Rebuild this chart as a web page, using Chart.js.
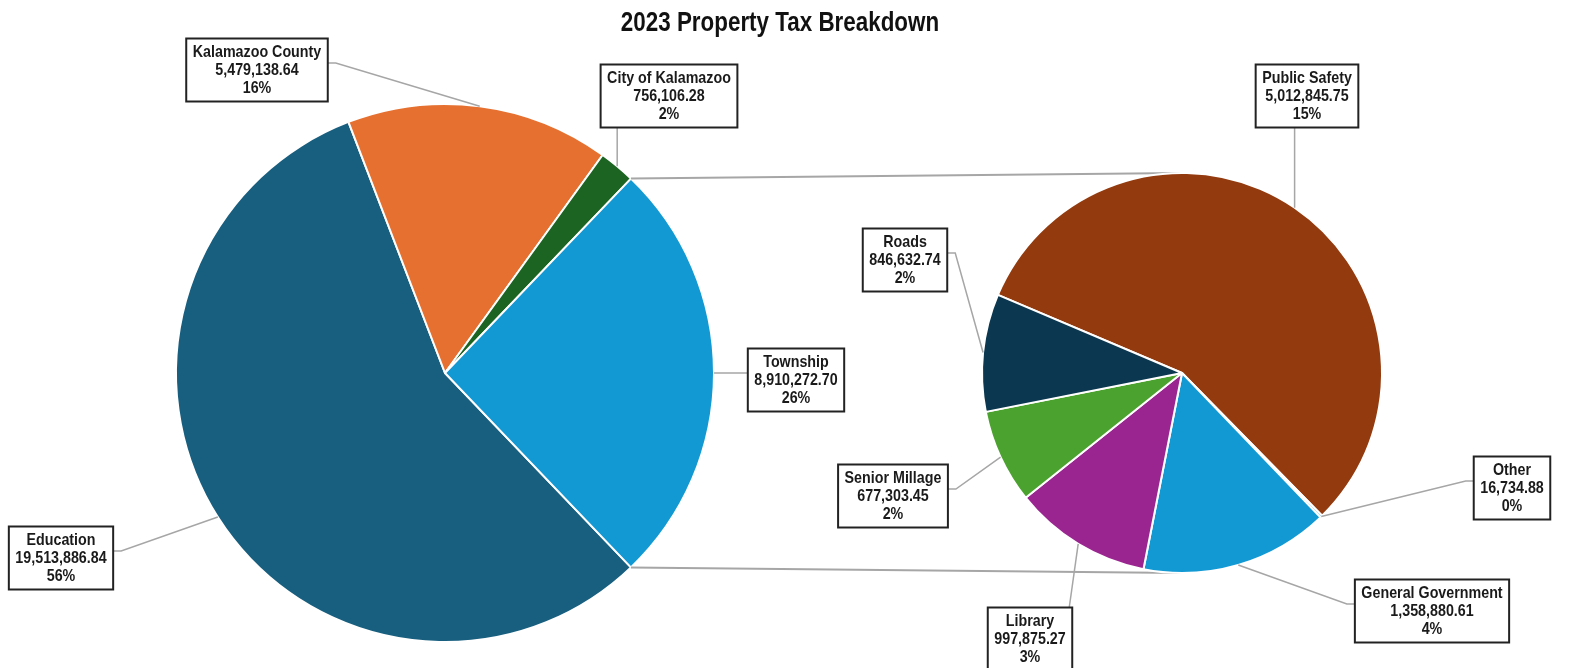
<!DOCTYPE html>
<html>
<head>
<meta charset="utf-8">
<script src="https://cdn.jsdelivr.net/npm/chart.js@4.4.1/dist/chart.umd.min.js"></script>
<style>
  html, body { margin: 0; padding: 0; background: #fff; overflow: hidden; }
  #wrap { position: relative; width: 1578px; height: 668px; overflow: hidden; transform-origin: 0 0; }
  .layer { position: absolute; left: 0; top: 0; width: 1578px; height: 668px; }
  canvas { display: block; }
</style>
</head>
<body>
<div id="wrap">
  <div class="layer"><canvas id="mainChart"></canvas></div>
  <div class="layer"><canvas id="subChart"></canvas></div>
</div>
<script>
'use strict';

var chartTitle = '2023 Property Tax Breakdown';

var mainLabels = ['Education', 'Kalamazoo County', 'City of Kalamazoo', 'Township'];
var mainValues = [19513886.84, 5479138.64, 756106.28, 8910272.70];
var mainPercents = ['56%', '16%', '2%', '26%'];
var mainColors = ['#175E7F', '#E5702F', '#1B6421', '#1299D4'];

var subLabels = ['Public Safety', 'Other', 'General Government', 'Library', 'Senior Millage', 'Roads'];
var subValues = [5012845.75, 16734.88, 1358880.61, 997875.27, 677303.45, 846632.74];
var subPercents = ['15%', '0%', '4%', '3%', '2%', '2%'];
var subColors = ['#933A0E', '#1299D4', '#1299D4', '#9B2590', '#4CA22E', '#0B3850'];

// label box centres and the side the leader line leaves from
var mainBoxes = [[61, 558, 'r'], [257, 70, 'r'], [669, 96, 'b'], [796, 380, 'l']];
var subBoxes = [[1307, 96, 'b'], [1512, 488, 'l'], [1432, 611, 'l'], [1030, 639, 't'], [893, 496, 'r'], [905, 260, 'r']];

var FONT = '"Liberation Sans", Arial, sans-serif';
var NARROW = 0.84;   // squeeze text sideways, no narrow font installed
var LEADER = '#A6A6A6';

// fit the fixed 1578x668 layout to whatever the window really is
var wrap = document.getElementById('wrap');
var sx = window.innerWidth / 1578, sy = window.innerHeight / 668;
if (Math.abs(sx - 1) > 0.001 || Math.abs(sy - 1) > 0.001) {
    wrap.style.transform = 'scale(' + sx + ',' + sy + ')';
}

function fmt(v) {
    return v.toLocaleString('en-US', { minimumFractionDigits: 2, maximumFractionDigits: 2 });
}

function narrowText(ctx, t, x, y, s) {
    ctx.save();
    ctx.translate(x, y);
    ctx.scale(s, 1);
    ctx.fillText(t, 0, 0);
    ctx.restore();
}

function drawLabels(chart, labels, values, percents, boxes) {
    var ctx = chart.ctx;
    var arcs = chart.getDatasetMeta(0).data;
    ctx.save();
    ctx.font = 'bold 17px ' + FONT;
    arcs.forEach(function (arc, i) {
        var lines = [labels[i], fmt(values[i]), percents[i]];
        var w = 0;
        lines.forEach(function (t) { w = Math.max(w, ctx.measureText(t).width * NARROW); });
        w += 13;
        var h = 63;
        var cx = boxes[i][0], cy = boxes[i][1], side = boxes[i][2];
        var left = cx - w / 2, top = cy - h / 2;

        // leader line to the middle of the slice edge
        var mid = (arc.startAngle + arc.endAngle) / 2;
        var px = arc.x + arc.outerRadius * Math.cos(mid);
        var py = arc.y + arc.outerRadius * Math.sin(mid);
        ctx.strokeStyle = LEADER;
        ctx.lineWidth = 1.5;
        ctx.beginPath();
        if (side === 'r' || side === 'l') {
            var ex = side === 'r' ? left + w : left;
            var dir = side === 'r' ? 1 : -1;
            ctx.moveTo(ex, cy - 7);
            ctx.lineTo(ex + dir * 8, cy - 7);
        } else {
            var bx = Math.min(Math.max(px, left + 3), left + w - 3);
            ctx.moveTo(bx, side === 'b' ? top + h : top);
        }
        ctx.lineTo(px, py);
        ctx.stroke();

        ctx.fillStyle = '#fff';
        ctx.fillRect(left, top, w, h);
        ctx.strokeStyle = '#222';
        ctx.lineWidth = 2;
        ctx.strokeRect(left, top, w, h);

        ctx.fillStyle = '#1a1a1a';
        ctx.textAlign = 'center';
        ctx.textBaseline = 'middle';
        lines.forEach(function (t, k) {
            narrowText(ctx, t, cx, cy - 18 + k * 18, NARROW);
        });
    });
    ctx.restore();
}

var mainTotal = mainValues.reduce(function (a, b) { return a + b; }, 0);
var townFrac = mainValues[3] / mainTotal;

var mainChart = new Chart(document.getElementById('mainChart').getContext('2d'), {
    type: 'pie',
    data: {
        labels: mainLabels,
        datasets: [{
            data: mainValues,
            backgroundColor: mainColors,
            borderColor: '#fff',
            borderWidth: 2,
            hoverOffset: 0
        }]
    },
    options: {
        responsive: true,
        maintainAspectRatio: false,
        animation: false,
        rotation: 90 + 180 * townFrac - 360,
        layout: { padding: { left: 175, right: 863, top: 103, bottom: 25 } },
        plugins: { legend: { display: false }, tooltip: { enabled: false } }
    },
    plugins: [{
        id: 'mainDecor',
        afterDraw: function (chart) {
            var ctx = chart.ctx;
            ctx.save();
            ctx.font = 'bold 28px ' + FONT;
            ctx.fillStyle = '#111';
            ctx.textAlign = 'center';
            ctx.textBaseline = 'middle';
            narrowText(ctx, chartTitle, 780, 23, 0.8);
            ctx.restore();
            drawLabels(chart, mainLabels, mainValues, mainPercents, mainBoxes);
        }
    }]
});

var subChart = new Chart(document.getElementById('subChart').getContext('2d'), {
    type: 'pie',
    data: {
        labels: subLabels,
        datasets: [{
            data: subValues,
            backgroundColor: subColors,
            borderColor: '#fff',
            borderWidth: 2,
            hoverOffset: 0
        }]
    },
    options: {
        responsive: true,
        maintainAspectRatio: false,
        animation: false,
        rotation: -67,
        layout: { padding: { left: 981, right: 195, top: 172, bottom: 94 } },
        plugins: { legend: { display: false }, tooltip: { enabled: false } }
    },
    plugins: [{
        id: 'connectors',
        beforeDatasetsDraw: function (chart) {
            // lines from the Township slice to the top and bottom of the second pie
            var town = mainChart.getDatasetMeta(0).data[3];
            var sub = chart.getDatasetMeta(0).data[0];
            var ctx = chart.ctx;
            ctx.save();
            ctx.strokeStyle = LEADER;
            ctx.lineWidth = 2;
            ctx.beginPath();
            ctx.moveTo(town.x + town.outerRadius * Math.cos(town.startAngle), town.y + town.outerRadius * Math.sin(town.startAngle));
            ctx.lineTo(sub.x, sub.y - sub.outerRadius);
            ctx.moveTo(town.x + town.outerRadius * Math.cos(town.endAngle), town.y + town.outerRadius * Math.sin(town.endAngle));
            ctx.lineTo(sub.x, sub.y + sub.outerRadius);
            ctx.stroke();
            ctx.restore();
        },
        afterDraw: function (chart) {
            drawLabels(chart, subLabels, subValues, subPercents, subBoxes);
        }
    }]
});
</script>
</body>
</html>
